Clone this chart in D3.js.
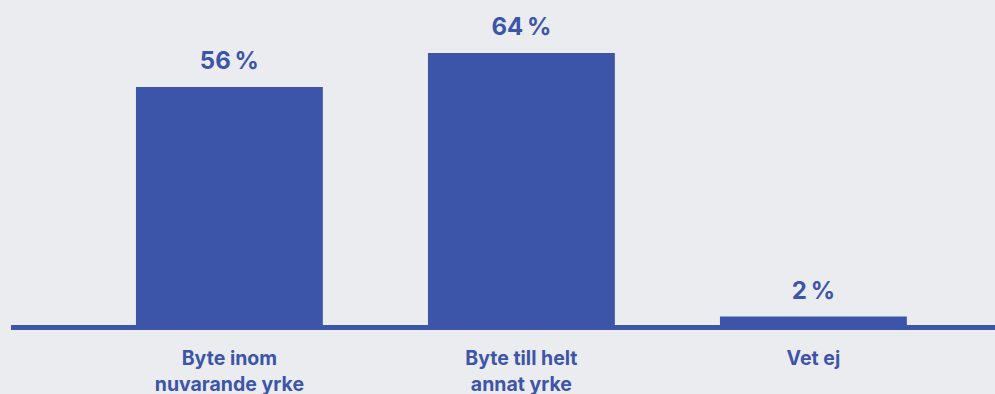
<!DOCTYPE html>
<html>
<head>
<meta charset="utf-8">
<script src="https://cdn.jsdelivr.net/npm/d3@7"></script>
<style>
  html, body { margin: 0; padding: 0; background: #ebecf0; }
  svg { display: block; }
  text { font-family: Inter, "Noto Sans", sans-serif; font-weight: 700; fill: #3d55a8; }
</style>
</head>
<body>
<svg id="chart"></svg>
<script>
var categories = ["Byte inom|nuvarande yrke", "Byte till helt|annat yrke", "Vet ej"];
var values = [56, 64, 2];

var width = 995,
    height = 394,
    baseY = 325,
    blue = "#3d55a8";

var svg = d3.select("#chart")
    .attr("width", width)
    .attr("height", height);

var x = d3.scaleBand()
    .domain(categories)
    .range([83.4, 959.4])
    .paddingInner(0.36)
    .paddingOuter(0.18);

var y = d3.scaleLinear()
    .domain([0, 64])
    .range([baseY, 53]);

// bars
svg.selectAll("rect.bar")
    .data(values)
  .enter().append("rect")
    .attr("class", "bar")
    .attr("x", function(d, i) { return x(categories[i]); })
    .attr("y", function(d) { return y(d); })
    .attr("width", x.bandwidth())
    .attr("height", function(d) { return y(0) - y(d); })
    .attr("fill", blue);

// baseline
svg.append("line")
    .attr("x1", 11)
    .attr("x2", width)
    .attr("y1", baseY + 2.5)
    .attr("y2", baseY + 2.5)
    .attr("stroke", blue)
    .attr("stroke-width", 5);

// value labels
svg.selectAll("text.value")
    .data(values)
  .enter().append("text")
    .attr("class", "value")
    .attr("x", function(d, i) { return x(categories[i]) + x.bandwidth() / 2; })
    .attr("y", function(d) { return y(d) - 18; })
    .attr("text-anchor", "middle")
    .attr("font-size", 24)
    .text(function(d) { return d + "\u202F%"; });

// category labels
var cat = svg.selectAll("text.cat")
    .data(categories)
  .enter().append("text")
    .attr("class", "cat")
    .attr("x", function(d) { return x(d) + x.bandwidth() / 2; })
    .attr("y", 365)
    .attr("text-anchor", "middle")
    .attr("font-size", 19.5);

cat.selectAll("tspan")
    .data(function(d) { return d.split("|").map(function(t) { return {t: t, x: x(d) + x.bandwidth() / 2}; }); })
  .enter().append("tspan")
    .attr("x", function(d) { return d.x; })
    .attr("dy", function(d, i) { return i ? 26 : 0; })
    .text(function(d) { return d.t; });
</script>
</body>
</html>
